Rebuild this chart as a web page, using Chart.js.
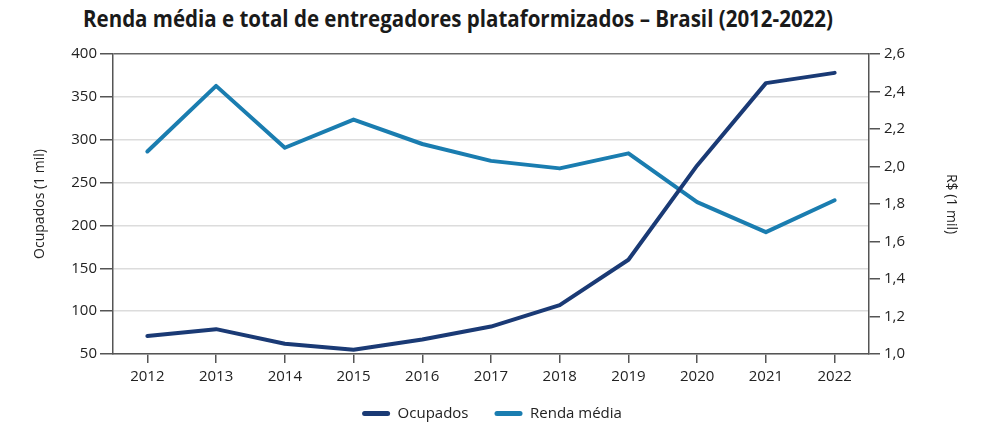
<!DOCTYPE html>
<html>
<head>
<meta charset="utf-8">
<script src="https://cdn.jsdelivr.net/npm/chart.js@4.4.0/dist/chart.umd.min.js"></script>
<style>
  html, body { margin: 0; padding: 0; background: #ffffff; }
  #wrap { position: relative; width: 984px; height: 431px; }
  #title {
    position: absolute; top: 2px; left: 83px;
    font-family: "Open Sans", sans-serif; font-weight: 700; font-size: 24px;
    color: #1a1a1a; white-space: nowrap; transform-origin: 0 0; line-height: 32px;
  }
  canvas { position: absolute; left: 0; top: 0; }
</style>
</head>
<body>
<div id="wrap">
  <div id="title">Renda média e total de entregadores plataformizados – Brasil (2012-2022)</div>
  <canvas id="c" width="984" height="431"></canvas>
</div>
<script>
const years = ["2012","2013","2014","2015","2016","2017","2018","2019","2020","2021","2022"];
const ocupados = [71, 79, 62, 55, 67, 82, 107, 160, 270, 366, 378];
const rendaMedia = [2.08, 2.43, 2.10, 2.25, 2.12, 2.03, 1.99, 2.07, 1.81, 1.65, 1.82];
const seriesNames = ["Ocupados", "Renda média"];
const leftAxisTitle = "Ocupados (1 mil)";
const rightAxisTitle = "R$ (1 mil)";

// fit title width
const t = document.getElementById('title');
const natural = t.getBoundingClientRect().width;
t.style.transform = 'scaleX(' + (750 / natural) + ')';

const FONT = "'Open Sans', sans-serif";
const AX = '#555555';

// widen the gap between legend items without changing the legend's vertical placement
const legendSpacing = {
  id: 'legendSpacing',
  beforeDraw(chart) {
    const lg = chart.legend;
    if (!lg || lg._spaced || !lg.lineWidths) return;
    lg._spaced = true;
    lg.options.labels.padding = 26;
    lg.lineWidths[0] += 26;
    lg.top -= 13;
    lg.height += 13;
  }
};

new Chart(document.getElementById('c'), {
  type: 'line',
  data: {
    labels: years,
    datasets: [
      { label: seriesNames[0], data: ocupados, yAxisID: 'y',
        borderColor: '#1a3a75', backgroundColor: '#1a3a75',
        borderWidth: 4, pointRadius: 0, tension: 0, borderCapStyle: 'round', borderJoinStyle: 'round' },
      { label: seriesNames[1], data: rendaMedia, yAxisID: 'y2',
        borderColor: '#1a7db0', backgroundColor: '#1a7db0',
        borderWidth: 4, pointRadius: 0, tension: 0, borderCapStyle: 'round', borderJoinStyle: 'round' }
    ]
  },
  plugins: [legendSpacing],
  options: {
    responsive: false,
    animation: false,
    layout: { padding: { top: 54, left: 0, right: 0, bottom: 0 } },
    plugins: {
      title: { display: false },
      tooltip: { enabled: false },
      legend: {
        position: 'bottom',
        labels: {
          font: { family: FONT, size: 15 },
          color: '#222',
          boxWidth: 28, boxHeight: 5, padding: 13,
          useBorderRadius: true, borderRadius: 2.5,
          generateLabels: (chart) => Chart.defaults.plugins.legend.labels.generateLabels(chart)
            .map(l => Object.assign({}, l, { lineWidth: 0, fillStyle: l.strokeStyle }))
        }
      }
    },
    scales: {
      x: {
        type: 'category',
        offset: true,
        grid: { offset: false, drawOnChartArea: false, drawTicks: true, tickLength: 9, tickColor: AX, lineWidth: 1.5 },
        border: { display: true, color: AX, width: 1.5 },
        ticks: { font: { family: FONT, size: 15 }, color: '#222', padding: 5, maxRotation: 0, autoSkip: false },
        afterFit: (s) => { s.height = 39; }
      },
      y: {
        position: 'left',
        min: 50, max: 400,
        ticks: { stepSize: 50, font: { family: FONT, size: 15 }, color: '#222', padding: 3 },
        grid: {
          color: (ctx) => (ctx.tick && ctx.tick.value === 400) ? '#666' : '#dcdcdc',
          lineWidth: 1.5, tickColor: AX, tickLength: 13
        },
        border: { display: true, color: AX, width: 1.5 },
        title: { display: true, text: leftAxisTitle, font: { family: FONT, size: 14 }, color: '#222', padding: { top: 32, bottom: 0 } },
        afterFit: (s) => { s.width = 113; }
      },
      y2: {
        position: 'right',
        min: 1.0, max: 2.6,
        ticks: {
          stepSize: 0.2, font: { family: FONT, size: 15 }, color: '#222', padding: 4,
          callback: (v) => Number(v).toFixed(1).replace('.', ',')
        },
        grid: { drawOnChartArea: false, tickColor: AX, tickLength: 11, lineWidth: 1.5 },
        border: { display: true, color: AX, width: 1.5 },
        title: { display: true, text: rightAxisTitle, font: { family: FONT, size: 14 }, color: '#222', padding: { top: 25, bottom: 0 } },
        afterFit: (s) => { s.width = 115; }
      }
    }
  }
});
</script>
</body>
</html>
